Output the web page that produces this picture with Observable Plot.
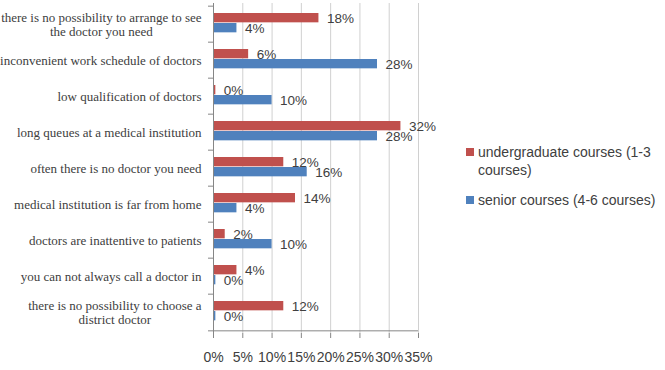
<!DOCTYPE html>
<html>
<head>
<meta charset="utf-8">
<script src="https://cdn.jsdelivr.net/npm/d3@7"></script>
<script src="https://cdn.jsdelivr.net/npm/@observablehq/plot@0.6"></script>
<style>
  html, body { margin: 0; padding: 0; background: #fff; }
  #wrap { position: relative; width: 665px; height: 370px; }
  #legend { position: absolute; left: 466px; top: 143px; font-family: "Liberation Sans", Arial, sans-serif; font-size: 14px; line-height: 18px; color: #404040; }
  .item { position: relative; padding-left: 12px; margin-bottom: 12px; white-space: nowrap; }
  .sw { position: absolute; left: 0; top: 5px; width: 8px; height: 8px; }
</style>
</head>
<body>
<div id="wrap"></div>
<script>
const categories = [
  "there is no possibility to arrange to see\nthe doctor you need",
  "inconvenient work schedule of doctors",
  "low qualification of doctors",
  "long queues at a medical institution",
  "often there is no doctor you need",
  "medical institution is far from home",
  "doctors are inattentive to patients",
  "you can not always call a doctor in",
  "there is no possibility to choose a\ndistrict doctor"
];
const seriesNames = ["undergraduate courses (1-3 courses)", "senior courses (4-6 courses)"];
const undergraduate = [18, 6, 0.4, 32, 12, 14, 2, 4, 12];
const senior = [4, 28, 10, 28, 16, 4, 10, 0.4, 0.4];
const xTicks = [0, 5, 10, 15, 20, 25, 30, 35];
const colors = ["#C0504D", "#4F81BD"];

const under = categories.map((c, i) => ({category: c, series: seriesNames[0], value: undergraduate[i]}));
const sen = categories.map((c, i) => ({category: c, series: seriesNames[1], value: senior[i]}));

const H = 370, MT = 3, MB = 37;
const band = (H - MT - MB) / categories.length;
const sans = "Liberation Sans, Arial, sans-serif";
const fmt = v => Math.round(v) + "%";

const chart = Plot.plot({
  width: 665,
  height: H,
  marginLeft: 213,
  marginRight: 247,
  marginTop: MT,
  marginBottom: MB,
  style: {fontFamily: sans, fontSize: "13px", color: "#404040", background: "#fff"},
  x: {domain: [0, 35]},
  y: {type: "band", domain: categories, padding: 0},
  marks: [
    Plot.gridX(xTicks, {stroke: "#d0d0d0", strokeOpacity: 1}),
    Plot.barX(under, {x: "value", y: "category", fill: colors[0], insetTop: 7, insetBottom: band - 17}),
    Plot.barX(sen, {x: "value", y: "category", fill: colors[1], insetTop: 17, insetBottom: band - 27}),
    Plot.text(under, {x: "value", y: "category", text: d => fmt(d.value), textAnchor: "start", dx: 8, dy: -5.5, fill: "#404040", fontSize: 13.5}),
    Plot.text(sen, {x: "value", y: "category", text: d => fmt(d.value), textAnchor: "start", dx: 8, dy: 4.5, fill: "#404040", fontSize: 13.5}),
    Plot.ruleX([0], {stroke: "#868686"}),
    Plot.ruleY([categories[categories.length - 1]], {x1: 0, x2: 35, dy: band / 2, stroke: "#868686"}),
    Plot.axisX({ticks: xTicks, tickFormat: d => d + "%", tickSize: 5, tickPadding: 14, stroke: "#868686", label: null, fontSize: 14, fill: "#404040"}),
    Plot.axisY({tickSize: 5, text: null, dy: -band / 2, stroke: "#868686", label: null}),
    Plot.axisY({ticks: [categories[categories.length - 1]], tickSize: 5, text: null, dy: band / 2, stroke: "#868686", label: null}),
    Plot.axisY({tickSize: 0, tickPadding: 12, label: null, fontFamily: "Liberation Serif, Times New Roman, serif", fontSize: 13, lineHeight: 1.08, fill: "#404040"})
  ]
});

document.getElementById("wrap").appendChild(chart);

// center multi-line category labels (as in the original), right edge kept at the axis padding
chart.querySelectorAll("text").forEach(t => {
  const spans = t.querySelectorAll("tspan");
  if (spans.length > 1) {
    let W = 0;
    spans.forEach(s => { W = Math.max(W, s.getComputedTextLength()); });
    t.setAttribute("text-anchor", "middle");
    spans.forEach(s => { s.setAttribute("x", (parseFloat(s.getAttribute("x")) || 0) - W / 2); });
  }
});

const legend = document.createElement("div");
legend.id = "legend";
legend.innerHTML =
  `<div class="item"><span class="sw" style="background:${colors[0]}"></span>undergraduate courses (1-3<br>courses)</div>` +
  `<div class="item"><span class="sw" style="background:${colors[1]}"></span>${seriesNames[1]}</div>`;
document.getElementById("wrap").appendChild(legend);
</script>
</body>
</html>
